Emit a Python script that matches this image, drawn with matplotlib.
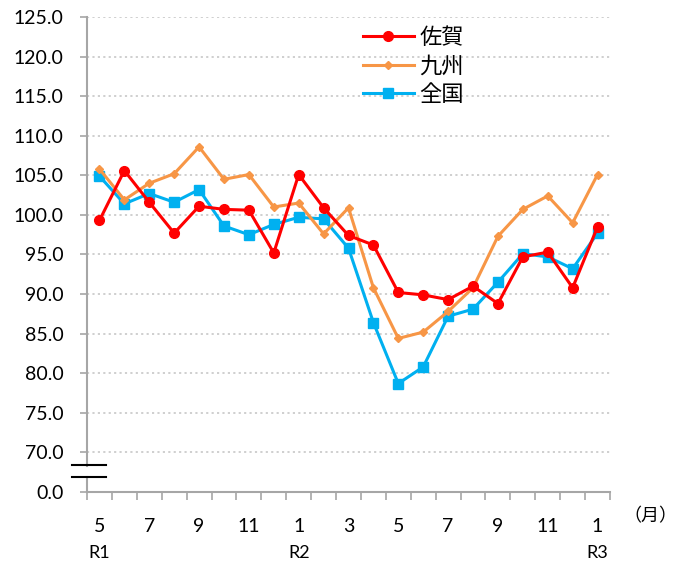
import matplotlib
matplotlib.use("Agg")
import matplotlib.pyplot as plt
import matplotlib.transforms as mtransforms

months = ["5", "6", "7", "8", "9", "10", "11", "12", "1", "2", "3", "4",
          "5", "6", "7", "8", "9", "10", "11", "12", "1"]
era_labels = ["R1", "R2", "R3"]
era_index = [0, 8, 20]

saga = [99.3, 105.6, 101.6, 97.7, 101.1, 100.7, 100.6, 95.2, 105.1, 100.9, 97.4,
        96.2, 90.2, 89.9, 89.3, 91.0, 88.8, 94.7, 95.3, 90.8, 98.5]
kyushu = [105.8, 101.9, 104.0, 105.2, 108.6, 104.5, 105.1, 101.0, 101.5, 97.6, 100.9,
          90.8, 84.4, 85.2, 87.8, 90.8, 97.3, 100.7, 102.4, 99.0, 105.1]
zenkoku = [104.9, 101.4, 102.7, 101.6, 103.2, 98.6, 97.5, 98.8, 99.7, 99.5, 95.8,
           86.4, 78.7, 80.8, 87.2, 88.1, 91.5, 95.1, 94.7, 93.2, 97.7]
series_names = ["佐賀", "九州", "全国"]

ytick_vals = [70.0, 75.0, 80.0, 85.0, 90.0, 95.0, 100.0, 105.0, 110.0, 115.0, 120.0, 125.0]
zero_pos = 65.0  # axis-break position for the 0.0 label

CJK = ["Noto Sans CJK JP", "DejaVu Sans"]
NUM = ["Lato", "DejaVu Sans"]

fig = plt.figure(figsize=(6.84, 5.65), dpi=100)
ax = fig.add_axes([87/684, 1-492/565, 523/684, 475/565])

x = list(range(len(months)))
ax.plot(x, saga, color="#FF0000", lw=2.2, marker="o", ms=7, label=series_names[0], zorder=5)
ax.plot(x, kyushu, color="#F79646", lw=2.2, marker="D", ms=4.5, label=series_names[1], zorder=4)
ax.plot(x, zenkoku, color="#00B0F0", lw=2.2, marker="s", ms=7, label=series_names[2], zorder=3)

ax.set_xlim(-0.5, len(months) - 0.5)
ax.set_ylim(zero_pos, 125)

# gridlines
for v in ytick_vals:
    ax.axhline(v, color="#cccccc", lw=1.3, ls=(0, (1.2, 1.8)), zorder=1)

ax.set_yticks([zero_pos] + ytick_vals)
ax.set_yticklabels(["0.0"] + [f"{v:.1f}" for v in ytick_vals], fontfamily=NUM, fontsize=14)
ax.tick_params(axis="y", direction="out", length=5, width=1.2, color="#a6a6a6", pad=12)

# x ticks: marks at boundaries, labels at odd months
ax.set_xticks([i - 0.5 for i in range(len(months) + 1)], minor=True)
ax.set_xticks(x[::2])
ax.set_xticklabels(months[::2], fontfamily=NUM, fontsize=14)
ax.tick_params(axis="x", which="major", length=0, pad=19)
ax.tick_params(axis="x", which="minor", direction="out", length=6, width=1.2, color="#a6a6a6")

for s in ["top", "right"]:
    ax.spines[s].set_visible(False)
ax.spines["bottom"].set_color("#a6a6a6")
ax.spines["bottom"].set_linewidth(1.5)
ax.spines["left"].set_visible(False)

trans = mtransforms.blended_transform_factory(ax.transAxes, ax.transData)
# left axis drawn in two pieces with break
ax.plot([0, 0], [68.3, 125], transform=trans, color="#a6a6a6", lw=1.5, clip_on=False, zorder=2)
ax.plot([0, 0], [zero_pos, 66.9], transform=trans, color="#a6a6a6", lw=1.5, clip_on=False, zorder=2)
# break marks
for yb in [68.4, 66.9]:
    ax.plot([-0.029, 0.036], [yb, yb], transform=trans, color="black", lw=1.5,
            clip_on=False, zorder=6)

# era labels
for lab, idx in zip(era_labels, era_index):
    ax.annotate(lab, xy=(idx, 0), xycoords=("data", "axes fraction"),
                xytext=(0, -61), textcoords="offset pixels", ha="center", va="center",
                fontfamily=NUM, fontsize=13)

fig.text(650/684, 1-516/565, "（月）", fontfamily=CJK, fontsize=13, ha="center", va="center")

leg = ax.legend(loc="upper left", bbox_to_anchor=((354-87)/523, (492-17)/475),
                frameon=False, prop={"family": CJK, "size": 16},
                handlelength=2.3, handletextpad=0.25, labelspacing=0.25, borderaxespad=0)

fig.savefig("out.png", dpi=100)
